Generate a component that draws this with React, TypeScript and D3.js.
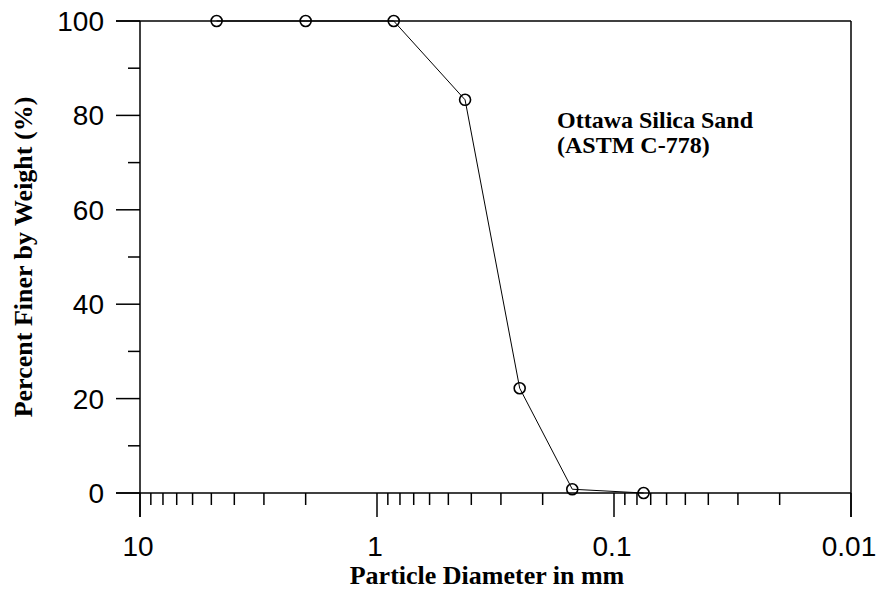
import React, { useEffect, useRef } from 'react';
import * as d3 from 'd3';

// sieve sizes (mm) and percent passing
const diameters = [4.75, 2.0, 0.85, 0.425, 0.25, 0.15, 0.075];
const percentFiner = [100, 100, 100, 83.3, 22.2, 0.8, 0];

const xMajorTicks = [10, 1, 0.1, 0.01];
const xTickLabels = ['10', '1', '0.1', '0.01'];
const yMajorTicks = [0, 20, 40, 60, 80, 100];
const yMinorTicks = [10, 30, 50, 70, 90];

const noteLines = ['Ottawa Silica Sand', '(ASTM C-778)'];
const xTitle = 'Particle Diameter in mm';
const yTitle = 'Percent Finer by Weight (%)';

const W = 880;
const H = 594;
const margin = { top: 21, right: 29, bottom: 101, left: 140 };

const App: React.FC = () => {
  const svgRef = useRef<SVGSVGElement>(null);

  useEffect(() => {
    if (!svgRef.current) return;
    const svg = d3.select(svgRef.current);
    svg.selectAll('*').remove();

    const x0 = margin.left;
    const x1 = W - margin.right;
    const y0 = H - margin.bottom;
    const y1 = margin.top;

    const x = d3.scaleLog().domain([10, 0.01]).range([x0, x1]);
    const y = d3.scaleLinear().domain([0, 100]).range([y0, y1]);

    const majorLen = 24;
    const minorLen = 12;
    const tickFont = '"Liberation Sans", Arial, sans-serif';
    const titleFont = '"Liberation Serif", "Times New Roman", serif';

    const g = svg.append('g').attr('stroke', '#000').attr('fill', 'none');

    // frame (top/bottom lines run out as the 100 / 0 major ticks)
    g.append('line').attr('x1', x0 - majorLen).attr('x2', x1).attr('y1', y1).attr('y2', y1).attr('stroke-width', 1.5);
    g.append('line').attr('x1', x0 - majorLen).attr('x2', x1).attr('y1', y0).attr('y2', y0).attr('stroke-width', 1.5);
    g.append('line').attr('x1', x0).attr('x2', x0).attr('y1', y1).attr('y2', y0 + majorLen).attr('stroke-width', 1.5);
    g.append('line').attr('x1', x1).attr('x2', x1).attr('y1', y1).attr('y2', y0 + majorLen).attr('stroke-width', 1.5);

    // y ticks
    yMajorTicks.forEach(v => {
      g.append('line').attr('x1', x0 - majorLen).attr('x2', x0).attr('y1', y(v)).attr('y2', y(v)).attr('stroke-width', 1.5);
    });
    yMinorTicks.forEach(v => {
      g.append('line').attr('x1', x0 - minorLen).attr('x2', x0).attr('y1', y(v)).attr('y2', y(v)).attr('stroke-width', 1.5);
    });

    // x ticks (log decades + 2..9 minors)
    const allX = x.ticks();
    allX.forEach(v => {
      const isMajor = xMajorTicks.some(m => Math.abs(m - v) / m < 1e-6);
      g.append('line')
        .attr('x1', x(v)).attr('x2', x(v))
        .attr('y1', y0).attr('y2', y0 + (isMajor ? majorLen : minorLen))
        .attr('stroke-width', 1.5);
    });

    // tick labels
    svg.append('g')
      .selectAll('text')
      .data(yMajorTicks)
      .enter()
      .append('text')
      .attr('x', x0 - 36)
      .attr('y', d => y(d))
      .attr('dy', '0.36em')
      .attr('text-anchor', 'end')
      .attr('font-family', tickFont)
      .attr('font-size', 28)
      .text(d => String(d));

    svg.append('g')
      .selectAll('text')
      .data(xMajorTicks)
      .enter()
      .append('text')
      .attr('x', d => x(d) - 2)
      .attr('y', 556)
      .attr('text-anchor', 'middle')
      .attr('font-family', tickFont)
      .attr('font-size', 28)
      .text((d, i) => xTickLabels[i]);

    // data line + open circles
    const pts = diameters.map((d, i) => ({ d, p: percentFiner[i] }));
    const line = d3.line<{ d: number; p: number }>().x(v => x(v.d)).y(v => y(v.p));
    svg.append('path')
      .datum(pts)
      .attr('d', line)
      .attr('fill', 'none')
      .attr('stroke', '#000')
      .attr('stroke-width', 1);

    svg.append('g')
      .selectAll('circle')
      .data(pts)
      .enter()
      .append('circle')
      .attr('cx', v => x(v.d))
      .attr('cy', v => y(v.p))
      .attr('r', 5.5)
      .attr('fill', 'none')
      .attr('stroke', '#000')
      .attr('stroke-width', 1.6);

    // annotation
    const note = svg.append('text')
      .attr('font-family', titleFont)
      .attr('font-weight', 'bold')
      .attr('font-size', 24);
    noteLines.forEach((t, i) => {
      note.append('tspan').attr('x', 557).attr('y', 128 + i * 25).text(t);
    });

    // axis titles
    svg.append('text')
      .attr('x', 487)
      .attr('y', 584)
      .attr('text-anchor', 'middle')
      .attr('font-family', titleFont)
      .attr('font-weight', 'bold')
      .attr('font-size', 26)
      .text(xTitle);

    svg.append('text')
      .attr('transform', `translate(32, ${(y0 + y1) / 2}) rotate(-90)`)
      .attr('text-anchor', 'middle')
      .attr('font-family', titleFont)
      .attr('font-weight', 'bold')
      .attr('font-size', 26)
      .text(yTitle);
  }, []);

  return (
    <svg
      ref={svgRef}
      width={W}
      height={H}
      style={{ position: 'absolute', left: 0, top: 0, background: '#fff' }}
    />
  );
};

export default App;
